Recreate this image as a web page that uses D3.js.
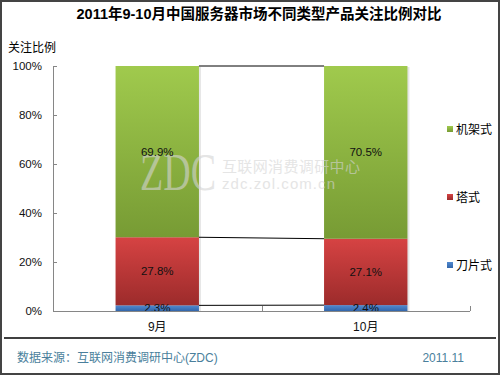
<!DOCTYPE html>
<html>
<head>
<meta charset="utf-8">
<script src="https://cdn.jsdelivr.net/npm/d3@7"></script>
<style>
  body { margin: 0; background: #fff; }
  svg text { font-family: "Liberation Sans", Arial, "Noto Sans CJK SC", sans-serif; }
</style>
</head>
<body>
<script>
// data
var categories = ["9月", "10月"];
var seriesNames = ["刀片式", "塔式", "机架式"];   // bottom to top
var blade = [2.3, 2.4];
var tower = [27.8, 27.1];
var rack = [69.9, 70.5];
var yTicks = [0, 20, 40, 60, 80, 100];

var svgWidth = 500, svgHeight = 375;
var margin = { top: 66, left: 53 };
var plotRight = 470, plotBottom = 311;

var rows = categories.map(function(c, i) {
    return { cat: c, "刀片式": blade[i], "塔式": tower[i], "机架式": rack[i] };
});

var colors = {
    "机架式": ["#a0ca4d", "#779b34"],
    "塔式": ["#d64343", "#9c2b2b"],
    "刀片式": ["#5089d0", "#3366aa"]
};

var svg = d3.select("body")
    .append("svg")
    .attr("width", svgWidth)
    .attr("height", svgHeight);

var defs = svg.append("defs");
seriesNames.forEach(function(s, i) {
    var g = defs.append("linearGradient")
        .attr("id", "grad" + i)
        .attr("x1", 0).attr("y1", 0).attr("x2", 0).attr("y2", 1);
    g.append("stop").attr("offset", "0%").attr("stop-color", colors[s][0]);
    g.append("stop").attr("offset", "100%").attr("stop-color", colors[s][1]);
});

// outer frame
svg.append("rect")
    .attr("x", 1).attr("y", 1)
    .attr("width", svgWidth - 2).attr("height", svgHeight - 2)
    .attr("fill", "#fff")
    .attr("stroke", "#444")
    .attr("stroke-width", 2);

// title
svg.append("text")
    .attr("x", 259).attr("y", 19)
    .attr("text-anchor", "middle")
    .style("font-size", "14.5px")
    .style("font-weight", "bold")
    .attr("fill", "#000")
    .text("2011年9-10月中国服务器市场不同类型产品关注比例对比");

svg.append("text")
    .attr("x", 8).attr("y", 52)
    .style("font-size", "12px")
    .attr("fill", "#000")
    .text("关注比例");

// scales
var x = d3.scaleBand()
    .domain(categories)
    .range([margin.left, plotRight])
    .paddingInner(0.6)
    .paddingOuter(0.3);

var y = d3.scaleLinear()
    .domain([0, 100])
    .range([plotBottom, margin.top]);

var stacked = d3.stack().keys(seriesNames)(rows);

// bar shadows
svg.append("g").selectAll("rect")
    .data(rows)
    .enter()
    .append("rect")
    .attr("x", d => x(d.cat) + 2)
    .attr("y", y(100) + 1)
    .attr("width", x.bandwidth())
    .attr("height", y(0) - y(100))
    .attr("fill", "#000")
    .attr("opacity", 0.1);

// stacked bars
var layers = svg.append("g").selectAll("g")
    .data(stacked)
    .enter()
    .append("g")
    .attr("fill", (d, i) => "url(#grad" + i + ")");

layers.selectAll("rect")
    .data(d => d)
    .enter()
    .append("rect")
    .attr("x", d => x(d.data.cat))
    .attr("y", d => y(d[1]))
    .attr("width", x.bandwidth())
    .attr("height", d => y(d[0]) - y(d[1]));

// series lines between bars
var lineLevels = stacked.map(function(layer) {
    return layer.map(d => d[1]);
});
svg.append("g").selectAll("line")
    .data(lineLevels)
    .enter()
    .append("line")
    .attr("x1", x(categories[0]) + x.bandwidth())
    .attr("x2", x(categories[1]))
    .attr("y1", d => y(d[0]))
    .attr("y2", d => y(d[1]))
    .attr("stroke", "#000")
    .attr("stroke-width", 1);

// watermark (sits over the bars)
var wm = svg.append("g").attr("opacity", 0.6);
wm.append("text")
    .attr("x", 140).attr("y", 190)
    .attr("textLength", 76).attr("lengthAdjust", "spacingAndGlyphs")
    .style("font-family", "'Liberation Serif', 'DejaVu Serif', serif")
    .style("font-size", "52px")
    .attr("fill", "#d4d4d4")
    .text("ZDC");
wm.append("text")
    .attr("x", 222).attr("y", 172)
    .attr("textLength", 138)
    .style("font-size", "15px")
    .attr("fill", "#d4d4d4")
    .text("互联网消费调研中心");
wm.append("text")
    .attr("x", 222).attr("y", 189)
    .attr("textLength", 113)
    .style("font-size", "15px")
    .attr("fill", "#d4d4d4")
    .text("zdc.zol.com.cn");

// value labels, drawn after every bar
var labelData = [];
stacked.forEach(function(layer) {
    layer.forEach(d => labelData.push(d));
});
svg.append("g").selectAll("text")
    .data(labelData)
    .enter()
    .append("text")
    .attr("x", d => x(d.data.cat) + x.bandwidth() / 2)
    .attr("y", d => (y(d[0]) + y(d[1])) / 2 + 4)
    .attr("text-anchor", "middle")
    .attr("fill", "#111")
    .style("font-size", "11.5px")
    .text(d => (d[1] - d[0]).toFixed(1) + "%");

// y axis
var leftAxis = d3.axisLeft(y)
    .tickValues(yTicks)
    .tickSize(-4)
    .tickPadding(11)
    .tickFormat(d => d + "%");

var yAxis = svg.append("g")
    .attr("transform", `translate(${margin.left},0)`)
    .call(leftAxis);
yAxis.select(".domain").attr("stroke", "#868686");
yAxis.selectAll(".tick line").attr("stroke", "#868686");
yAxis.selectAll(".tick text")
    .attr("fill", "#111")
    .style("font-size", "11.5px")
    .style("font-family", "'Liberation Sans', Arial, sans-serif");

// x axis
svg.append("line")
    .attr("x1", margin.left).attr("x2", plotRight)
    .attr("y1", plotBottom + 0.5).attr("y2", plotBottom + 0.5)
    .attr("stroke", "#868686");
var bounds = categories.map(c => x(c) + x.bandwidth() / 2 + x.step() / 2);
svg.append("g").selectAll("line")
    .data(bounds)
    .enter()
    .append("line")
    .attr("x1", d => Math.round(d) + 0.5).attr("x2", d => Math.round(d) + 0.5)
    .attr("y1", plotBottom).attr("y2", plotBottom - 5)
    .attr("stroke", "#868686");

svg.append("g").selectAll("text")
    .data(categories)
    .enter()
    .append("text")
    .attr("x", d => x(d) + x.bandwidth() / 2)
    .attr("y", 331)
    .attr("text-anchor", "middle")
    .attr("fill", "#111")
    .style("font-size", "12px")
    .text(d => d);

// legend
var legendNames = ["机架式", "塔式", "刀片式"];
var legendY = [129, 197, 265];
var legend = svg.append("g").selectAll("g")
    .data(legendNames)
    .enter()
    .append("g")
    .attr("transform", (d, i) => `translate(447,${legendY[i]})`);
legend.append("rect")
    .attr("x", 0).attr("y", -3)
    .attr("width", 6).attr("height", 6)
    .attr("fill", d => "url(#grad" + seriesNames.indexOf(d) + ")");
legend.append("text")
    .attr("x", 9).attr("y", 4.5)
    .attr("fill", "#000")
    .style("font-size", "12px")
    .text(d => d);

// footer
svg.append("line")
    .attr("x1", 4).attr("x2", 496)
    .attr("y1", 338).attr("y2", 338)
    .attr("stroke", "#000")
    .attr("stroke-width", 1.5);

svg.append("text")
    .attr("x", 17).attr("y", 362)
    .attr("fill", "#4a7f9c")
    .style("font-size", "12px")
    .text("数据来源：互联网消费调研中心(ZDC)");

svg.append("text")
    .attr("x", 464).attr("y", 362)
    .attr("text-anchor", "end")
    .attr("fill", "#4a7f9c")
    .style("font-size", "12px")
    .text("2011.11");
</script>
</body>
</html>
